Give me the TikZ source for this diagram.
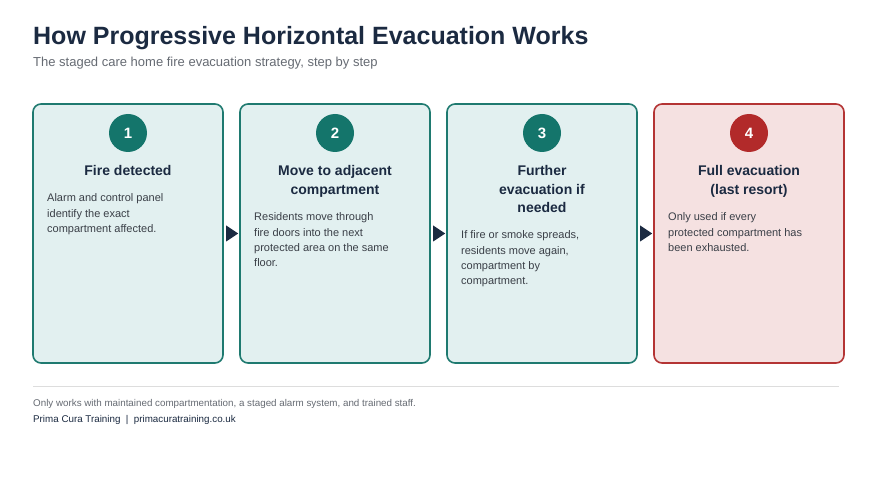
\documentclass[tikz,border=0pt]{standalone}
\usepackage{fontspec}
\setmainfont{Liberation Sans}
\definecolor{navy}{HTML}{1B2A41}
\definecolor{subgrey}{HTML}{666B73}
\definecolor{bodytxt}{HTML}{3A3F47}
\definecolor{tealline}{HTML}{1F7A70}
\definecolor{tealdot}{HTML}{14756B}
\definecolor{tealfill}{HTML}{E2F0F0}
\definecolor{redline}{HTML}{B43434}
\definecolor{reddot}{HTML}{B22A2A}
\definecolor{redfill}{HTML}{F5E1E1}
\definecolor{rulegrey}{HTML}{DDDDDD}
\tikzset{
  card/.style={draw=tealline, fill=tealfill, line width=1.6pt, rounded corners=8pt},
  redcard/.style={draw=redline, fill=redfill, line width=1.6pt, rounded corners=8pt},
  numdot/.style={circle, fill=tealdot, minimum size=38pt, inner sep=0pt, text=white, font=\fontsize{15}{15}\selectfont\bfseries},
  rednumdot/.style={numdot, fill=reddot},
  heading/.style={anchor=base, align=center, inner sep=0pt, text=navy, font=\fontsize{14}{18.5}\selectfont\bfseries},
  bodytext/.style={anchor=base west, align=left, inner sep=0pt, text=bodytxt, font=\fontsize{11}{15.3}\selectfont},
  flowarrow/.style={fill=navy, draw=none},
}
\begin{document}
\begin{tikzpicture}[x=1pt,y=-1pt]
\useasboundingbox[fill=white] (0,0) rectangle (871,489);
% title
\node[anchor=base west, inner sep=0pt, text=navy, font=\fontsize{25}{25}\selectfont\bfseries] (title) at (33,45) {How Progressive Horizontal Evacuation Works};
\node[anchor=base west, inner sep=0pt, text=subgrey, font=\fontsize{13}{13}\selectfont] (subtitle) at (33,66.5) {The staged care home fire evacuation strategy, step by step};
% cards
\path[card] (33,104) rectangle (223,363);
\path[card] (240,104) rectangle (430,363);
\path[card] (447,104) rectangle (637,363);
\path[redcard] (654,104) rectangle (844,363);
\node[draw=none, minimum width=190pt, minimum height=259pt, inner sep=0pt] (b1) at (128,233.5) {};
\node[draw=none, minimum width=190pt, minimum height=259pt, inner sep=0pt] (b2) at (335,233.5) {};
\node[draw=none, minimum width=190pt, minimum height=259pt, inner sep=0pt] (b3) at (542,233.5) {};
\node[draw=none, minimum width=190pt, minimum height=259pt, inner sep=0pt] (b4) at (749,233.5) {};
% numbers
\node[numdot] (n1) at (128,133) {1};
\node[numdot] (n2) at (335,133) {2};
\node[numdot] (n3) at (542,133) {3};
\node[rednumdot] (n4) at (749,133) {4};
% headings (base anchor = last line baseline)
\node[heading] (h1) at (128,176) {Fire detected};
\node[heading] (h2) at (335,194.5) {Move to adjacent\\compartment};
\node[heading] (h3) at (542,213) {Further\\evacuation if\\needed};
\node[heading] (h4) at (749,194.5) {Full evacuation\\(last resort)};
% bodies (base anchor = last line baseline)
\node[bodytext] (t1) at (47,232.6) {Alarm and control panel\\identify the exact\\compartment affected.};
\node[bodytext] (t2) at (254,266.9) {Residents move through\\fire doors into the next\\protected area on the same\\floor.};
\node[bodytext] (t3) at (461,284.9) {If fire or smoke spreads,\\residents move again,\\compartment by\\compartment.};
\node[bodytext] (t4) at (668,251.6) {Only used if every\\protected compartment has\\been exhausted.};
% arrows
\fill[flowarrow] ([xshift=3pt]b1.east) ++(0,-8) -- ++(12,8) -- ++(-12,8) -- cycle;
\fill[flowarrow] ([xshift=3pt]b2.east) ++(0,-8) -- ++(12,8) -- ++(-12,8) -- cycle;
\fill[flowarrow] ([xshift=3pt]b3.east) ++(0,-8) -- ++(12,8) -- ++(-12,8) -- cycle;
% footer
\coordinate (rl) at (33,386); \coordinate (rr) at (839,386);
\draw[rulegrey, line width=1pt] (rl) -- (rr);
\node[anchor=base west, inner sep=0pt, text=subgrey, font=\fontsize{9.8}{9.8}\selectfont] (note) at (33,406.5) {Only works with maintained compartmentation, a staged alarm system, and trained staff.};
\node[anchor=base west, inner sep=0pt, text=navy, font=\fontsize{9.8}{9.8}\selectfont] (brand) at (33,422.5) {Prima Cura Training \ | \ primacuratraining.co.uk};
\end{tikzpicture}
\end{document}
